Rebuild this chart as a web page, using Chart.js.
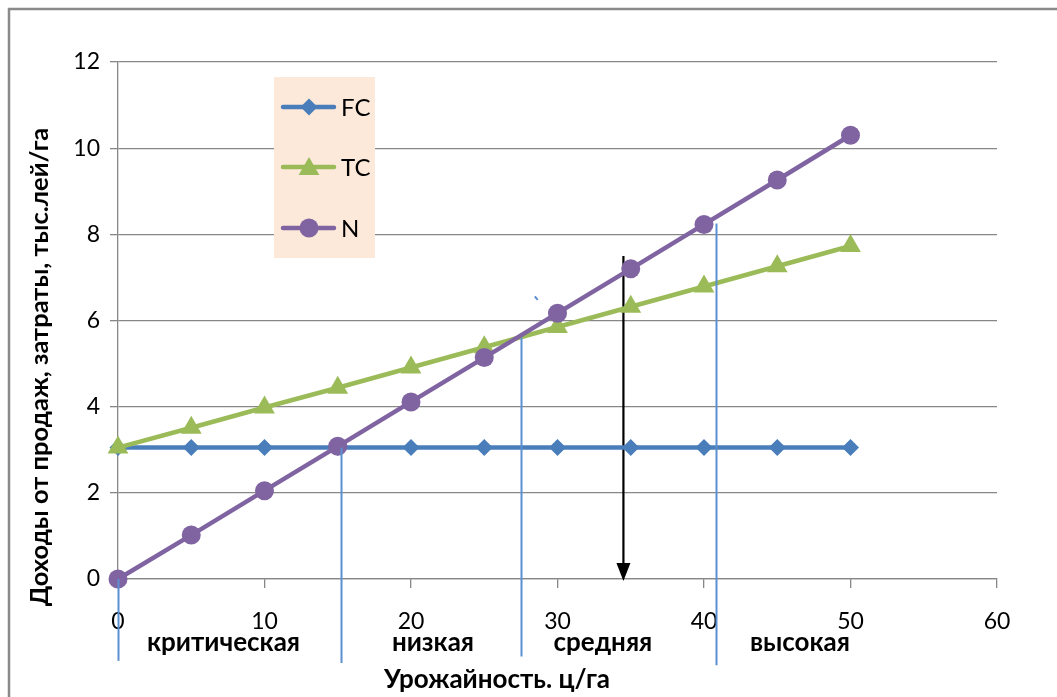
<!DOCTYPE html>
<html><head><meta charset="utf-8">
<script src="https://cdn.jsdelivr.net/npm/chart.js@4.4.1/dist/chart.umd.min.js"></script>
<style>html,body{margin:0;padding:0;background:#fff;overflow:hidden}
#wrap{position:relative;width:1057px;height:697px}</style></head>
<body><div id="wrap"><canvas id="c" width="1057" height="697"></canvas></div>
<script>
// ---- data ----
const xValues = [0, 5, 10, 15, 20, 25, 30, 35, 40, 45, 50];
const fcValues = [3.05, 3.05, 3.05, 3.05, 3.05, 3.05, 3.05, 3.05, 3.05, 3.05, 3.05];
const tcValues = [3.05, 3.51, 3.98, 4.44, 4.91, 5.38, 5.85, 6.32, 6.79, 7.26, 7.73];
const nValues  = [0, 1.02, 2.05, 3.08, 4.11, 5.14, 6.17, 7.2, 8.23, 9.26, 10.3];
const seriesNames = ['FC', 'TC', 'N'];
const xTickValues = [0, 10, 20, 30, 40, 50, 60];
const yTickValues = [0, 2, 4, 6, 8, 10, 12];
const zoneNames = ['критическая', 'низкая', 'средняя', 'высокая'];
const zoneLabelX = [7.2, 21.5, 33.1, 46.55];
const boundaryX = [0, 15.2, 27.5, 40.8];
const boundaryTop = [0, 3.05, 5.6, 8.25];
const boundaryBottom = [-1.9, -1.95, -1.8, -2.0];
const arrowX = 34.5, arrowTop = 7.5, arrowBottom = 0;
const strayMark = [28.45, 6.56, 28.65, 6.48];
const xTitle = 'Урожайность. ц/га';
const yTitle = 'Доходы от продаж, затраты, тыс.лей/га';

// ---- styles ----
const FONT = 'Lato, "Open Sans", sans-serif';
const colFC = '#4A7EBB', colTC = '#9BBB59', colN = '#8064A2';
const gridCol = '#878787';
const lineBlue = '#5B8FD0';

function pts(ys){ return xValues.map((x,i)=>({x:x, y:ys[i]})); }

function drawMarker(ctx, style, x, y, r, color){
  ctx.save(); ctx.fillStyle = color; ctx.beginPath();
  if (style === 'rectRot'){
    ctx.moveTo(x, y-r); ctx.lineTo(x+r, y); ctx.lineTo(x, y+r); ctx.lineTo(x-r, y);
  } else if (style === 'triangle'){
    ctx.moveTo(x, y-r); ctx.lineTo(x+r*0.866, y+r*0.5); ctx.lineTo(x-r*0.866, y+r*0.5);
  } else { ctx.arc(x, y, r, 0, Math.PI*2); }
  ctx.closePath(); ctx.fill(); ctx.restore();
}

const decor = {
  id: 'decor',
  beforeDraw(chart){
    const ctx = chart.ctx;
    ctx.save();
    ctx.strokeStyle = '#8a8a8a'; ctx.lineWidth = 2.5;
    ctx.beginPath(); ctx.moveTo(9, 697); ctx.lineTo(9, 9); ctx.lineTo(1057, 9); ctx.stroke();
    ctx.restore();
  },
  beforeDatasetsDraw(chart){
    const ctx = chart.ctx, xs = chart.scales.x, ys = chart.scales.y;
    ctx.save();
    const ax = xs.getPixelForValue(arrowX);
    const at = ys.getPixelForValue(arrowTop), ab = ys.getPixelForValue(arrowBottom);
    ctx.strokeStyle = '#000'; ctx.lineWidth = 2.2;
    ctx.beginPath(); ctx.moveTo(ax, at); ctx.lineTo(ax, ab - 14); ctx.stroke();
    ctx.fillStyle = '#000'; ctx.beginPath();
    ctx.moveTo(ax - 7, ab - 16); ctx.lineTo(ax + 7, ab - 16); ctx.lineTo(ax, ab + 2); ctx.closePath(); ctx.fill();
    ctx.restore();
  },
  afterDatasetsDraw(chart){
    const ctx = chart.ctx, xs = chart.scales.x, ys = chart.scales.y;
    ctx.save();
    ctx.strokeStyle = lineBlue; ctx.lineWidth = 2;
    boundaryX.forEach((bx, i) => {
      const px = Math.round(xs.getPixelForValue(bx)) + 0.5;
      ctx.beginPath();
      ctx.moveTo(px, ys.getPixelForValue(boundaryTop[i]));
      ctx.lineTo(px, ys.getPixelForValue(boundaryBottom[i]));
      ctx.stroke();
    });
    ctx.beginPath();
    ctx.moveTo(xs.getPixelForValue(strayMark[0]), ys.getPixelForValue(strayMark[1]));
    ctx.lineTo(xs.getPixelForValue(strayMark[2]), ys.getPixelForValue(strayMark[3]));
    ctx.stroke();

    ctx.fillStyle = '#000';
    ctx.font = 'bold 26px ' + FONT;
    ctx.textAlign = 'center'; ctx.textBaseline = 'middle';
    zoneNames.forEach((t, i) => ctx.fillText(t, xs.getPixelForValue(zoneLabelX[i]), 643));
    ctx.fillText(xTitle, 497, 680);
    ctx.save();
    ctx.translate(40, 367); ctx.rotate(-Math.PI/2);
    ctx.font = 'bold 25.5px ' + FONT;
    ctx.fillText(yTitle, 0, 0);
    ctx.restore();

    ctx.fillStyle = '#FDE9D9';
    ctx.fillRect(274, 77, 101, 181);
    const cols = [colFC, colTC, colN], styles = ['rectRot', 'triangle', 'circle'], rads = [8.5, 12, 9.5];
    const ly = [107, 167, 228];
    seriesNames.forEach((n, i) => {
      ctx.strokeStyle = cols[i]; ctx.lineWidth = 4.5; ctx.lineCap = 'round';
      ctx.beginPath(); ctx.moveTo(283, ly[i]); ctx.lineTo(334, ly[i]); ctx.stroke();
      drawMarker(ctx, styles[i], 309, ly[i] + (i === 1 ? 2 : 0), rads[i], cols[i]);
      ctx.fillStyle = '#000'; ctx.font = '24px ' + FONT; ctx.textAlign = 'left';
      ctx.fillText(n, 341, ly[i] + 1);
    });
    ctx.restore();
  }
};

new Chart(document.getElementById('c'), {
  type: 'line',
  data: { datasets: [
    { label: seriesNames[0], data: pts(fcValues), borderColor: colFC, backgroundColor: colFC, borderWidth: 4.5,
      pointStyle: 'rectRot', pointRadius: 8.5, pointBorderWidth: 0, order: 3, clip: false },
    { label: seriesNames[1], data: pts(tcValues), borderColor: colTC, backgroundColor: colTC, borderWidth: 4.5,
      pointStyle: 'triangle', pointRadius: 12, pointBorderWidth: 0, order: 2, clip: false },
    { label: seriesNames[2], data: pts(nValues), borderColor: colN, backgroundColor: colN, borderWidth: 4.5,
      pointStyle: 'circle', pointRadius: 9.5, pointBorderWidth: 0, order: 1, clip: false }
  ]},
  options: {
    responsive: false, animation: false, devicePixelRatio: 1,
    layout: { padding: { left: 0, top: 62, right: 60, bottom: 0 } },
    plugins: { legend: { display: false }, tooltip: { enabled: false } },
    elements: { line: { tension: 0 } },
    scales: {
      x: { type: 'linear', min: 0, max: 60,
        afterBuildTicks: s => { s.ticks = xTickValues.map(v => ({value: v})); },
        afterFit: s => { s.height = 118; },
        ticks: { color: '#000', font: { family: FONT, size: 23 }, padding: 20, maxRotation: 0 },
        grid: { drawOnChartArea: false, drawTicks: true, tickLength: 9, color: gridCol, lineWidth: 1.3 },
        border: { color: gridCol, width: 1.3 } },
      y: { type: 'linear', min: 0, max: 12,
        afterBuildTicks: s => { s.ticks = yTickValues.map(v => ({value: v})); },
        afterFit: s => { s.width = 118; },
        ticks: { color: '#000', font: { family: FONT, size: 23 }, padding: 10 },
        grid: { color: gridCol, lineWidth: 1.3, tickLength: 8 },
        border: { color: gridCol, width: 1.3 } }
    }
  },
  plugins: [decor]
});
</script></body></html>
